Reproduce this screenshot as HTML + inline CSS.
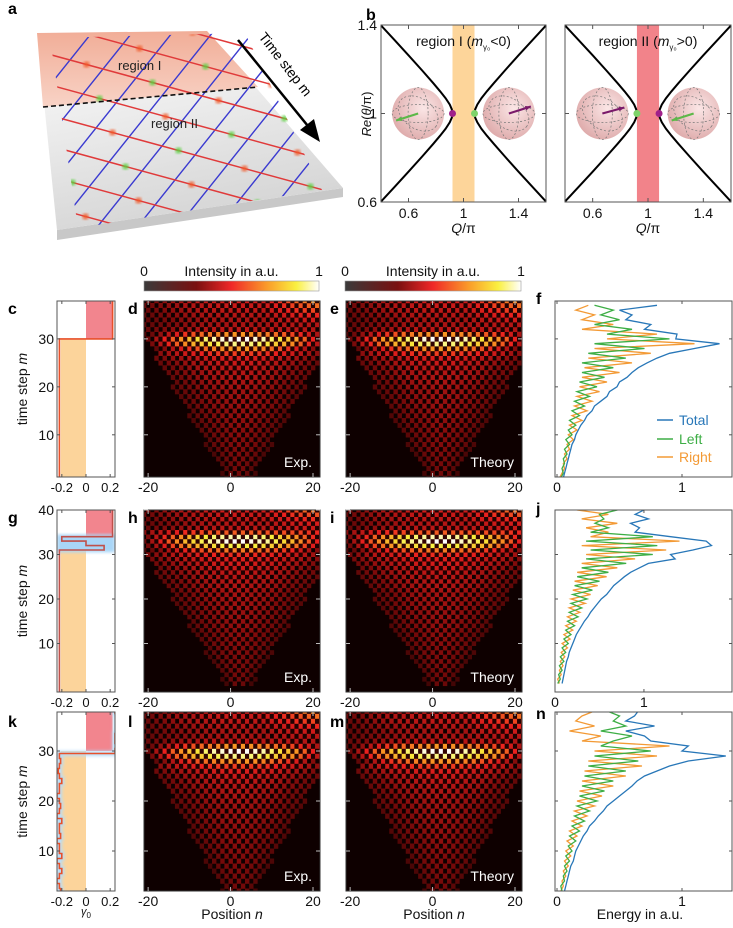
<!DOCTYPE html>
<html><head><meta charset="utf-8">
<style>
html,body{margin:0;padding:0;background:#fff;}
svg{display:block;font-family:"Liberation Sans",Arial,sans-serif;}
</style></head>
<body>
<svg id="fig" width="733" height="928" viewBox="0 0 733 928" xmlns="http://www.w3.org/2000/svg">
<defs>
<linearGradient id="slabTop" x1="0" y1="0" x2="0.3" y2="1">
<stop offset="0" stop-color="#ffffff"/><stop offset="1" stop-color="#d6d6d6"/></linearGradient>
<linearGradient id="pinkReg" x1="0" y1="0" x2="0" y2="1">
<stop offset="0" stop-color="#f1ad97"/><stop offset="1" stop-color="#f8d3c6"/></linearGradient>
<linearGradient id="cbar" x1="0" y1="0" x2="1" y2="0">
<stop offset="0" stop-color="#3a3a3a"/><stop offset="0.3" stop-color="#7a1010"/><stop offset="0.5" stop-color="#f02828"/><stop offset="0.7" stop-color="#fa9a2a"/><stop offset="0.87" stop-color="#faf040"/><stop offset="1" stop-color="#ffffff"/></linearGradient>
<radialGradient id="sph" cx="0.6" cy="0.4" r="0.7">
<stop offset="0" stop-color="#fbe6e6"/><stop offset="1" stop-color="#dca6a6"/></radialGradient>
<filter id="blur3"><feGaussianBlur stdDeviation="2.5"/></filter>
<filter id="blur1"><feGaussianBlur stdDeviation="1.5"/></filter>
<clipPath id="latClip"><polygon points="50,38 245,33 322,190 78,228"/></clipPath>
</defs>

<!-- Panel a -->
<g>
<polygon points="57,230 343,188 343,197 57,240" fill="#c8c8c8"/>
<polygon points="37,33 207,31 343,188 57,230" fill="url(#slabTop)"/>
<polygon points="37,33 207,31 258,87 43,107" fill="url(#pinkReg)"/>
<g id="lattice" clip-path="url(#latClip)"></g>
<line x1="43" y1="107" x2="258" y2="87" stroke="#111" stroke-width="1.6" stroke-dasharray="5,3"/>
<text x="118" y="70" font-size="13" fill="#222">region I</text>
<text x="151" y="128" font-size="13" fill="#222">region II</text>
<line x1="238" y1="40" x2="312" y2="131" stroke="#000" stroke-width="2.5"/>
<polygon points="320,142 300,130 314,119" fill="#000"/>
<text transform="translate(258,37) rotate(52)" font-size="14" fill="#000">Time step m</text>
</g>

<g id="root"></g>
</svg>
<script>
// ===== Data =====
// Panel b: hyperbola branches (distance from Q=1, offset from Re=1)
const bDQ = [0.08,0.085,0.1,0.13,0.17,0.22,0.3,0.4,0.5,0.6];
const bOff = [0,0.019,0.040,0.069,0.1005,0.137,0.194,0.263,0.331,0.398];
const bXTicks = [0.6,1,1.4];
const bYTicks = [0.6,1,1.4];

// Panel c/g/k: gamma0 step profiles
const cM = [1.2,30,30,37.9];
const cG = [-0.22,-0.22,0.22,0.22];
const gM = [-1,31,31,32,32,33,33,34,34,40.5];
const gG = [-0.22,-0.22,0.15,0.15,0.0,0.0,-0.2,-0.2,0.22,0.22];
const kStart = 2;
const kG = [-0.21,-0.22,-0.24,-0.22,-0.2,-0.22,-0.24,-0.2,-0.22,-0.22,-0.24,-0.21,-0.22,-0.22,-0.2,-0.24,-0.22,-0.21,-0.22,-0.24,-0.22,-0.22,-0.2,-0.22,-0.23,-0.22,-0.21,-0.22,0.24,0.25,0.24,0.24,0.25,0.26,0.25,0.26,0.24];

// Heatmaps: per-row amplitude, half-width of lit cone, right-edge brightening
const amp1 = [0.26,0.27,0.28,0.28,0.29,0.3,0.3,0.31,0.31,0.32,0.32,0.33,0.33,0.34,0.34,0.35,0.35,0.36,0.36,0.37,0.38,0.39,0.4,0.42,0.44,0.47,0.55,0.7,0.92,1.0,0.7,0.42,0.38,0.38,0.4,0.42,0.44,0.46];
const half1 = [3,4,4,5,6,6,7,8,8,9,10,10,11,12,12,13,14,14,15,16,16,17,18,18,19,20,20,21,22,22,23,23,23,23,23,23,23,23];
const edge1 = [0,0,0,0,0,0,0,0,0,0,0,0,0,0,0,0,0,0,0,0,0,0,0,0,0,0,0,0,0,0,0.05,0.1,0.15,0.2,0.25,0.3,0.35,0.4];
const amp2 = [0.26,0.27,0.28,0.28,0.29,0.3,0.3,0.31,0.31,0.32,0.32,0.33,0.33,0.34,0.34,0.35,0.35,0.36,0.36,0.37,0.37,0.38,0.39,0.4,0.41,0.42,0.44,0.46,0.48,0.52,0.65,0.88,1.0,0.95,0.6,0.42,0.4,0.42,0.44,0.46,0.48];
const half2 = [3,4,4,5,6,6,7,8,8,9,10,10,11,12,12,13,14,14,15,16,16,17,18,18,19,20,20,21,22,22,23,23,23,23,23,23,23,23,23,23,23];
const edge2 = [0,0,0,0,0,0,0,0,0,0,0,0,0,0,0,0,0,0,0,0,0,0,0,0,0,0,0,0,0,0,0,0,0,0,0.1,0.15,0.2,0.25,0.3,0.35,0.4];
const amp3 = [0.27,0.28,0.28,0.29,0.3,0.3,0.31,0.31,0.32,0.32,0.33,0.33,0.34,0.34,0.35,0.35,0.36,0.36,0.37,0.38,0.39,0.4,0.42,0.44,0.47,0.55,0.7,0.92,1.0,0.7,0.42,0.38,0.38,0.4,0.42,0.44,0.46];
const half3 = [4,4,5,6,6,7,8,8,9,10,10,11,12,12,13,14,14,15,16,16,17,18,18,19,20,20,21,22,22,23,23,23,23,23,23,23,23];
const edge3 = [0,0,0,0,0,0,0,0,0,0,0,0,0,0,0,0,0,0,0,0,0,0,0,0,0,0,0,0,0,0.05,0.1,0.15,0.2,0.25,0.3,0.35,0.4];

// Energy profiles
const fTotal = [0.05,0.06,0.07,0.08,0.09,0.1,0.11,0.12,0.14,0.15,0.17,0.19,0.22,0.24,0.28,0.3,0.35,0.4,0.42,0.48,0.5,0.56,0.6,0.65,0.72,0.8,0.9,1.1,1.3,0.95,0.96,0.7,0.75,0.55,0.6,0.5,0.8];
const fLeft = [0.03,0.05,0.04,0.06,0.05,0.08,0.06,0.1,0.07,0.12,0.09,0.15,0.1,0.18,0.12,0.22,0.14,0.26,0.16,0.32,0.18,0.38,0.2,0.45,0.2,0.55,0.25,0.7,0.3,0.9,0.4,0.6,0.3,0.5,0.35,0.45,0.3];
const fRight = [0.02,0.04,0.06,0.05,0.08,0.06,0.1,0.08,0.13,0.09,0.16,0.1,0.2,0.12,0.24,0.14,0.28,0.16,0.34,0.18,0.4,0.2,0.5,0.22,0.6,0.25,0.75,0.3,1.1,0.4,0.8,0.2,0.45,0.2,0.3,0.15,0.25];
const jTotal = [0.08,0.09,0.1,0.11,0.12,0.13,0.15,0.16,0.18,0.2,0.22,0.24,0.27,0.3,0.33,0.37,0.4,0.44,0.48,0.52,0.58,0.62,0.66,0.72,0.78,0.85,0.95,1.05,1.35,1.3,1.55,1.76,1.7,1.3,0.9,0.95,0.85,1.05,0.9,1.0,1.05];
const jLeft = [0.03,0.06,0.04,0.08,0.05,0.1,0.06,0.12,0.08,0.15,0.1,0.18,0.12,0.22,0.14,0.26,0.16,0.3,0.18,0.36,0.2,0.42,0.22,0.5,0.25,0.6,0.3,0.8,0.35,1.1,0.4,1.15,0.35,1.1,0.4,0.6,0.45,0.55,0.5,0.7,0.8];
const jRight = [0.05,0.03,0.07,0.05,0.09,0.06,0.11,0.07,0.14,0.08,0.17,0.1,0.2,0.12,0.24,0.14,0.28,0.16,0.34,0.18,0.4,0.2,0.48,0.22,0.58,0.25,0.7,0.3,0.9,0.35,1.25,0.3,1.4,0.4,0.6,0.35,0.7,0.3,0.6,0.25,0.2];
const nTotal = [0.06,0.07,0.08,0.09,0.1,0.11,0.13,0.14,0.15,0.17,0.19,0.21,0.24,0.26,0.3,0.33,0.37,0.4,0.45,0.5,0.55,0.6,0.64,0.7,0.8,0.9,1.05,1.35,1.0,1.05,0.75,0.7,0.55,0.78,0.55,0.62,0.65];
const nLeft = [0.04,0.03,0.06,0.05,0.08,0.06,0.1,0.07,0.12,0.09,0.15,0.1,0.18,0.12,0.22,0.14,0.26,0.16,0.32,0.18,0.38,0.2,0.45,0.22,0.55,0.25,0.65,0.3,0.75,0.35,0.45,0.6,0.35,0.55,0.45,0.5,0.4];
const nRight = [0.03,0.05,0.04,0.07,0.05,0.09,0.06,0.11,0.07,0.13,0.08,0.16,0.1,0.2,0.12,0.24,0.14,0.3,0.16,0.36,0.18,0.45,0.2,0.55,0.22,0.68,0.25,0.8,0.3,0.9,0.2,0.35,0.1,0.3,0.15,0.2,0.3];

// ===== Helpers =====
const NS = 'http://www.w3.org/2000/svg';
const root = document.getElementById('root');
function mk(tag, parent, at){const e=document.createElementNS(NS,tag);for(const k in at)e.setAttribute(k,at[k]);(parent||root).appendChild(e);return e;}
function lin(d0,d1,r0,r1){return v=>r0+(v-d0)/(d1-d0)*(r1-r0);}
function txt(str,x,y,size,anchor,parent,extra){const t=mk('text',parent,Object.assign({x:x,y:y,'font-size':size,'text-anchor':anchor||'middle',fill:'#111'},extra||{}));t.textContent=str;return t;}

// ===== Panel a lattice (illustration) =====
(function(){
  const lat=document.getElementById('lattice');
  const O=[30,110], A=[33,9], B=[20,-25];
  for(let u=-5;u<=10;u++){
    const p0=[O[0]+u*A[0]-5*B[0],O[1]+u*A[1]-5*B[1]], p1=[O[0]+u*A[0]+10*B[0],O[1]+u*A[1]+10*B[1]];
    const l=mk('line',lat,{x1:p0[0],y1:p0[1],x2:p1[0],y2:p1[1],stroke:'#3a3ad0','stroke-width':1.4});
    
    
  }
  for(let v=-5;v<=10;v++){
    const p0=[O[0]+v*B[0]-5*A[0],O[1]+v*B[1]-5*A[1]], p1=[O[0]+v*B[0]+12*A[0],O[1]+v*B[1]+12*A[1]];
    const l=mk('line',lat,{x1:p0[0],y1:p0[1],x2:p1[0],y2:p1[1],stroke:'#e03a3a','stroke-width':1.5});
    
    
  }
  for(let u=-3;u<=9;u++){for(let v=-3;v<=9;v++){
    if((u+v)%2!==0) continue;
    const x=O[0]+(u+0.5)*A[0]+v*B[0], y=O[1]+(u+0.5)*A[1]+v*B[1];
    const c=mk('circle',lat,{cx:x,cy:y,r:3,fill:((u*3+v)%4===0)?'#5cd040':'#f05a2a',filter:'url(#blur1)'});
    
    
  }}
})();

// ===== Panel letters =====
const letters=[['a',8,14],['b',366,20],['c',8,314],['d',128,314],['e',330,314],['f',536,304],['g',8,523],['h',128,523],['i',330,523],['j',536,514],['k',8,727],['l',128,727],['m',330,727],['n',536,719]];
letters.forEach(L=>{const t=txt(L[0],L[1],L[2],16,'start',null,{'font-weight':'bold',fill:'#000'});
  
  });

// ===== Panel b =====
function panelB(x0,x1,leftBand,bandColor,title,sub,leftDot,rightDot,arrows,showY,name){
  const g=mk('g',root,{});
  
  
  const X=lin(0.4,1.6,x0,x1), Y=lin(0.6,1.4,202,25);
  const band=mk('rect',g,{x:X(0.92),y:25,width:X(1.08)-X(0.92),height:177,fill:bandColor});
  
  
  [-1,1].forEach(sx=>[-1,1].forEach(sy=>{
    let d='';
    bDQ.forEach((q,i)=>{d+=(i?'L':'M')+X(1+sx*q).toFixed(1)+','+Y(1+sy*bOff[i]).toFixed(1);});
    const p=mk('path',g,{d:d,fill:'none',stroke:'#000','stroke-width':2});
    
    
  }));
  [[0.67,arrows[0]],[1.33,arrows[1]]].forEach(s=>{
    const cx=X(s[0]), cy=Y(1);
    const sg=mk('g',g,{});
    
    
    mk('circle',sg,{cx:cx,cy:cy,r:26,fill:'url(#sph)'});
    mk('ellipse',sg,{cx:cx,cy:cy,rx:26,ry:9,fill:'none',stroke:'#777','stroke-width':0.7,'stroke-dasharray':'2,2'});
    mk('ellipse',sg,{cx:cx,cy:cy,rx:10,ry:26,fill:'none',stroke:'#777','stroke-width':0.7,'stroke-dasharray':'2,2'});
    mk('ellipse',sg,{cx:cx,cy:cy,rx:22,ry:15,fill:'none',stroke:'#777','stroke-width':0.7,'stroke-dasharray':'2,2',transform:'rotate(35 '+cx+' '+cy+')'});
    const a=s[1];
    mk('line',sg,{x1:cx,y1:cy,x2:cx+a.dx,y2:cy+a.dy,stroke:a.c,'stroke-width':2.2});
    const ang=Math.atan2(a.dy,a.dx), hx=cx+a.dx, hy=cy+a.dy;
    mk('polygon',sg,{points:hx+','+hy+' '+(hx-6*Math.cos(ang-0.4))+','+(hy-6*Math.sin(ang-0.4))+' '+(hx-6*Math.cos(ang+0.4))+','+(hy-6*Math.sin(ang+0.4)),fill:a.c});
  });
  const d1=mk('circle',g,{cx:X(0.92),cy:Y(1),r:3.5,fill:leftDot});
  
  
  const d2=mk('circle',g,{cx:X(1.08),cy:Y(1),r:3.5,fill:rightDot});
  
  
  const box=mk('rect',g,{x:x0,y:25,width:x1-x0,height:177,fill:'none',stroke:'#555','stroke-width':1});
  
  
  bXTicks.forEach(v=>{mk('line',g,{x1:X(v),y1:202,x2:X(v),y2:198,stroke:'#555'});mk('line',g,{x1:X(v),y1:25,x2:X(v),y2:29,stroke:'#555'});
    const t=txt(String(v),X(v),218,14,'middle',g);
    
    });
  bYTicks.forEach(v=>{mk('line',g,{x1:x0,y1:Y(v),x2:x0+4,y2:Y(v),stroke:'#555'});mk('line',g,{x1:x1,y1:Y(v),x2:x1-4,y2:Y(v),stroke:'#555'});
    if(showY){const t=txt(String(v),x0-4,Y(v)+5,14,'end',g);
      
      }});
  const tt=mk('text',g,{x:(x0+x1)/2,y:46,'font-size':14,'text-anchor':'middle',fill:'#111'});
  
  
  tt.innerHTML=title+' (<tspan font-style="italic">m</tspan><tspan font-size="8" dy="4">γ₀</tspan><tspan dy="-4">'+sub+'0)</tspan>';
  const xl=mk('text',g,{x:(x0+x1)/2,y:233,'font-size':14,'text-anchor':'middle',fill:'#111'});
  
  
  xl.innerHTML='<tspan font-style="italic">Q</tspan>/π';
}
panelB(381,546,true,'#fdd59a','region I','&lt;','#a0208a','#7ed36a',[{dx:-22,dy:7,c:'#5cb848'},{dx:22,dy:-7,c:'#7a1a6a'}],true,'panel-b-region-i');
panelB(565,731,false,'#f2838a','region II','&gt;','#7ed36a','#a0208a',[{dx:22,dy:-6,c:'#7a1a6a'},{dx:-22,dy:7,c:'#5cb848'}],false,'panel-b-region-ii');
(function(){const t=mk('text',root,{transform:'translate(371,114) rotate(-90)','font-size':13,'text-anchor':'middle',fill:'#111'});
  
  
  t.innerHTML='<tspan font-style="italic">Re</tspan>(<tspan font-style="italic">θ</tspan>/π)';})();

// ===== Colorbars =====
[[144,319],[345,521]].forEach((c,i)=>{
  const r=mk('rect',root,{x:c[0],y:281,width:c[1]-c[0],height:10,fill:'url(#cbar)',stroke:'#999','stroke-width':0.6});
  
  
  const a=txt('0',c[0],276,14,'middle');
  const b=txt('1',c[1],276,14,'middle');
  const t=txt('Intensity in a.u.',(c[0]+c[1])/2,276,14,'middle');
});

// ===== Rows =====
const rows=[
 {y0:301,y1:477,mDom:[1.2,37.9],ticks:[10,20,30],cM:cM,cG:cG,kind:'c',amp:amp1,half:half1,edge:edge1,m0:1,tot:fTotal,lef:fLeft,rig:fRight,eDom:[-0.016,1.4],eTicks:[0,1],id:['c','d','e','f']},
 {y0:510,y1:692,mDom:[-0.9,40],ticks:[10,20,30,40],cM:gM,cG:gG,kind:'g',amp:amp2,half:half2,edge:edge2,m0:1,tot:jTotal,lef:jLeft,rig:jRight,eDom:[0,1.99],eTicks:[0,1],id:['g','h','i','j']},
 {y0:712,y1:891,mDom:[2,37.8],ticks:[10,20,30],cM:null,cG:null,kind:'k',amp:amp3,half:half3,edge:edge3,m0:2,tot:nTotal,lef:nLeft,rig:nRight,eDom:[-0.016,1.4],eTicks:[0,1],id:['k','l','m','n']}
];
const stops=[[0,[14,0,0]],[0.3,[125,10,10]],[0.5,[235,32,30]],[0.7,[250,150,35]],[0.87,[250,240,60]],[1,[255,255,255]]];
function cmap(v){v=Math.max(0,Math.min(1,v));for(let i=1;i<stops.length;i++){if(v<=stops[i][0]){const a=stops[i-1],b=stops[i],t=(v-a[0])/(b[0]-a[0]);return 'rgb('+a[1].map((c,k)=>Math.round(c+(b[1][k]-c)*t)).join(',')+')';}}return '#fff';}
let clipN=0;
function frame(g,x0,y0,w,h,col){const r=mk('rect',g,{x:x0,y:y0,width:w,height:h,fill:'none',stroke:col||'#555','stroke-width':1});
  
  }
function clip(x,y,w,h){clipN++;const d=document.querySelector('defs');const c=mk('clipPath',d,{id:'cp'+clipN});mk('rect',c,{x:x,y:y,width:w,height:h});return 'url(#cp'+clipN+')';}

rows.forEach((R,ri)=>{
  const h=R.y1-R.y0, Y=lin(R.mDom[0],R.mDom[1],R.y1,R.y0);
  const gx0=57,gx1=115,GX=lin(-0.24,0.24,gx0,gx1);
  const gp=mk('g',root,{'clip-path':clip(gx0,R.y0,gx1-gx0,h)});
  
  
  const sw = R.kind==='g'?34:30;
  const of=mk('rect',gp,{x:GX(-0.21),y:Y(R.kind==='g'?31:30),width:GX(0)-GX(-0.21),height:R.y1-Y(R.kind==='g'?31:30),fill:'#fcd49b'});
  
  
  const rf=mk('rect',gp,{x:GX(0),y:R.y0,width:GX(0.22)-GX(0),height:Y(sw)-R.y0,fill:'#f2858e'});
  
  
  let d='';
  if(R.kind==='k'){
    kG.forEach((v,i)=>{const m=kStart+i;d+=(i?'L':'M')+GX(v).toFixed(1)+','+Y(m-0.5).toFixed(1)+'L'+GX(v).toFixed(1)+','+Y(m+0.5).toFixed(1);});
    const glow=mk('path',gp,{d:d,fill:'none',stroke:'#b5dcf8','stroke-width':5,filter:'url(#blur1)'});
    
    
  } else {
    R.cM.forEach((m,i)=>{d+=(i?'L':'M')+GX(R.cG[i]).toFixed(1)+','+Y(m).toFixed(1);});
    if(R.kind==='g'){const b=mk('rect',gp,{x:gx0,y:Y(34.5),width:gx1-gx0,height:Y(30.5)-Y(34.5),fill:'#a9d6f7',filter:'url(#blur1)'});
      
      }
  }
  const ln=mk('path',gp,{d:d,fill:'none',stroke:R.kind==='g'?'#c0504a':'#e8502a','stroke-width':1.6});
  
  
  frame(root,gx0,R.y0,gx1-gx0,h);
  [-0.2,0,0.2].forEach(v=>{mk('line',root,{x1:GX(v),y1:R.y1,x2:GX(v),y2:R.y1-3,stroke:'#555'});mk('line',root,{x1:GX(v),y1:R.y0,x2:GX(v),y2:R.y0+3,stroke:'#555'});
    const t=txt(String(v),GX(v),R.y1+15,13,'middle');});
  R.ticks.forEach(v=>{mk('line',root,{x1:gx0,y1:Y(v),x2:gx0+3,y2:Y(v),stroke:'#555'});mk('line',root,{x1:gx1,y1:Y(v),x2:gx1-3,y2:Y(v),stroke:'#555'});
    const t=txt(String(v),gx0-3,Y(v)+5,14,'end');});
  const yl=mk('text',root,{transform:'translate(27,'+((R.y0+R.y1)/2)+') rotate(-90)','font-size':14,'text-anchor':'middle',fill:'#111'});
  
  
  yl.innerHTML='time step <tspan font-style="italic">m</tspan>';

  [[144,320,'Exp.',R.id[1]],[346,522,'Theory',R.id[2]]].forEach(H=>{
    const X=lin(-21,21.7,H[0],H[1]);
    const hg=mk('g',root,{'clip-path':clip(H[0],R.y0,H[1]-H[0],h)});
    
    
    mk('rect',hg,{x:H[0],y:R.y0,width:H[1]-H[0],height:h,fill:'#0e0000'});
    const cw=X(1)-X(0)+0.3;
    R.amp.forEach((a,i)=>{
      const m=R.m0+i, w=R.half[i];
      for(let n=-22;n<=23;n++){
        const dd=n-2;
        let v;
        if(Math.abs(dd)<=w){
          const r=dd/w;
          v = a>0.6 ? a*(1-0.75*r*r) : a*(1-0.45*r*r);
        } else v=0.02;
        v += R.edge[i]*Math.max(0,(n-8)/14);
        if(((n+m)%2+2)%2===1) v*=0.1;
        if(v<0.04) continue;
        const c=mk('rect',hg,{x:X(n-0.5).toFixed(2),y:Y(m+0.5).toFixed(2),width:cw.toFixed(2),height:(Y(m-0.5)-Y(m+0.5)+0.3).toFixed(2),fill:cmap(v)});
        
        
      }
    });
    frame(root,H[0],R.y0,H[1]-H[0],h,'#333');
    [-20,0,20].forEach(v=>{mk('line',root,{x1:X(v),y1:R.y1,x2:X(v),y2:R.y1-4,stroke:'#bbb'});mk('line',root,{x1:X(v),y1:R.y0,x2:X(v),y2:R.y0+4,stroke:'#bbb'});
      const t=txt(String(v),X(v),R.y1+15,14,'middle');});
    R.ticks.forEach(v=>{mk('line',root,{x1:H[0],y1:Y(v),x2:H[0]+4,y2:Y(v),stroke:'#bbb'});mk('line',root,{x1:H[1],y1:Y(v),x2:H[1]-4,y2:Y(v),stroke:'#bbb'});});
    const lab=txt(H[2],H[1]-8,R.y1-10,14,'end',null,{fill:'#fff'});
    
    
  });

  const ex0=555,ex1=732,EX=lin(R.eDom[0],R.eDom[1],ex0,ex1);
  const eg=mk('g',root,{'clip-path':clip(ex0,R.y0,ex1-ex0,h)});
  
  
  [[R.rig,'#f39a35','energy-right'],[R.lef,'#3dae45','energy-left'],[R.tot,'#2877b8','energy-total']].forEach(S=>{
    let d='';S[0].forEach((v,i)=>{d+=(i?'L':'M')+EX(v).toFixed(1)+','+Y(R.m0+i).toFixed(1);});
    const p=mk('path',eg,{d:d,fill:'none',stroke:S[1],'stroke-width':1.3});
    
    
  });
  frame(root,ex0,R.y0,ex1-ex0,h);
  R.eTicks.forEach(v=>{mk('line',root,{x1:EX(v),y1:R.y1,x2:EX(v),y2:R.y1-3,stroke:'#555'});mk('line',root,{x1:EX(v),y1:R.y0,x2:EX(v),y2:R.y0+3,stroke:'#555'});
    const t=txt(String(v),EX(v),R.y1+15,14,'middle');});
  R.ticks.forEach(v=>{mk('line',root,{x1:ex0,y1:Y(v),x2:ex0+3,y2:Y(v),stroke:'#555'});mk('line',root,{x1:ex1,y1:Y(v),x2:ex1-3,y2:Y(v),stroke:'#555'});});
  if(ri===0){
    [['Total','#2877b8',425],['Left','#3dae45',444],['Right','#f39a35',462]].forEach(L=>{
      const g=mk('g',root,{});
      
      
      mk('line',g,{x1:657,y1:L[2]-5,x2:673,y2:L[2]-5,stroke:L[1],'stroke-width':1.5});
      txt(L[0],679,L[2],14,'start',g,{fill:L[1]});
    });
  }
});

[[232,'Position '],[434,'Position ']].forEach(p=>{const t=mk('text',root,{x:p[0],y:919,'font-size':14,'text-anchor':'middle',fill:'#111'});
  
  
  t.innerHTML=p[1]+'<tspan font-style="italic">n</tspan>';});
(function(){const t=txt('Energy in a.u.',640,919,14,'middle');
  
  
  const g=mk('text',root,{x:86,y:915,'font-size':11,'text-anchor':'middle',fill:'#111'});
  
  
  g.innerHTML='<tspan font-style="italic">γ</tspan><tspan font-size="8" dy="3">0</tspan>';})();
</script>
</body></html>
